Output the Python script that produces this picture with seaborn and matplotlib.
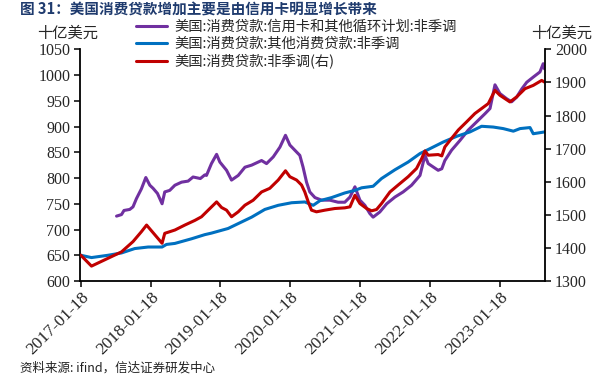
import numpy as np
import pandas as pd
import matplotlib
matplotlib.use("Agg")
import matplotlib.pyplot as plt
import matplotlib.dates as mdates
import seaborn as sns

# ---------------- data ----------------
purple_dates = ["2017-07-24", "2017-08-19", "2017-09-01", "2017-10-01", "2017-10-18", "2017-11-05",
                "2017-12-01", "2017-12-24", "2018-01-14", "2018-01-31", "2018-02-23", "2018-03-19",
                "2018-04-02", "2018-04-28", "2018-05-25", "2018-06-29", "2018-08-02", "2018-08-28",
                "2018-10-05", "2018-10-28", "2018-11-06", "2018-12-02", "2018-12-29", "2019-01-15",
                "2019-02-19", "2019-03-17", "2019-04-21", "2019-05-26", "2019-06-30", "2019-08-21",
                "2019-09-16", "2019-10-21", "2019-11-25", "2019-12-24", "2020-01-16", "2020-02-11",
                "2020-03-08", "2020-03-25", "2020-04-12", "2020-04-29", "2020-05-26", "2020-06-30",
                "2020-08-12", "2020-09-24", "2020-10-29", "2020-11-25", "2020-12-21", "2021-01-16",
                "2021-02-11", "2021-03-09", "2021-03-26", "2021-04-30", "2021-06-05", "2021-07-18",
                "2021-08-30", "2021-10-13", "2021-11-26", "2021-12-22", "2022-01-08", "2022-03-01",
                "2022-03-20", "2022-04-05", "2022-05-10", "2022-06-23", "2022-08-05", "2022-09-18",
                "2022-11-01", "2022-11-27", "2022-12-23", "2023-01-18", "2023-02-22", "2023-03-20",
                "2023-04-15", "2023-05-12", "2023-06-07", "2023-07-11", "2023-08-15", "2023-09-01",
                "2023-09-08"]
purple_vals = [726, 729, 737, 739, 744, 760,
               779, 801, 786, 780, 770, 750,
               773, 776, 786, 792, 794, 802,
               799, 806, 805, 828, 846, 831,
               815, 796, 805, 821, 825, 834,
               828, 841, 860, 883, 864, 854,
               844, 821, 792, 773, 762, 757,
               757, 753, 753, 763, 783, 757,
               747, 731, 724, 734, 750, 763,
               773, 786, 805, 844, 828, 815,
               818, 834, 854, 873, 893, 909,
               925, 935, 981, 964, 954, 948,
               957, 973, 986, 996, 1006, 1022,
               1012]

blue_dates = ["2017-01-18", "2017-03-15", "2017-06-10", "2017-08-19", "2017-10-27", "2018-01-05",
              "2018-03-19", "2018-04-11", "2018-05-25", "2018-08-20", "2018-10-28", "2018-12-02",
              "2019-02-27", "2019-04-21", "2019-06-30", "2019-09-07", "2019-11-16", "2020-01-25",
              "2020-04-03", "2020-05-17", "2020-06-21", "2020-08-21", "2020-10-29", "2020-12-21",
              "2021-01-25", "2021-03-26", "2021-05-09", "2021-07-18", "2021-09-25", "2021-11-26",
              "2022-01-17", "2022-03-28", "2022-06-06", "2022-08-14", "2022-10-14", "2022-12-14",
              "2023-02-04", "2023-03-29", "2023-05-03", "2023-06-24", "2023-07-11", "2023-09-08"]
blue_vals = [650, 645.5, 650, 654.5, 663, 666,
             666, 671, 673, 682, 690, 693,
             702, 711.5, 724, 739, 747, 752,
             753.5, 747, 756, 762, 771, 776,
             781, 784, 799, 816, 831, 847.5,
             857, 870, 881, 889.5, 900.5, 899,
             896, 891, 896, 898, 886, 889.5]

red_dates = ["2017-01-18", "2017-03-15", "2017-08-19", "2017-10-18", "2017-12-01", "2017-12-28",
             "2018-03-19", "2018-04-02", "2018-05-25", "2018-07-16", "2018-09-06", "2018-10-11",
             "2018-11-15", "2018-12-29", "2019-01-24", "2019-02-19", "2019-03-17", "2019-04-21",
             "2019-05-26", "2019-07-08", "2019-08-21", "2019-10-03", "2019-11-16", "2019-12-24",
             "2020-01-16", "2020-02-20", "2020-03-17", "2020-04-03", "2020-04-21", "2020-05-08",
             "2020-06-03", "2020-07-17", "2020-09-07", "2020-10-29", "2020-11-25", "2020-12-21",
             "2021-01-16", "2021-02-20", "2021-03-18", "2021-04-13", "2021-05-09", "2021-06-22",
             "2021-08-04", "2021-09-25", "2021-11-08", "2021-12-05", "2021-12-22", "2022-01-08",
             "2022-03-01", "2022-03-20", "2022-04-05", "2022-05-02", "2022-06-14", "2022-07-28",
             "2022-09-09", "2022-10-14", "2022-11-18", "2022-12-23", "2023-01-18", "2023-03-11",
             "2023-04-15", "2023-05-29", "2023-07-11", "2023-08-24", "2023-09-08"]
red_vals = [1378, 1345, 1388, 1419, 1449, 1469,
            1414, 1444, 1454, 1469, 1483, 1494,
            1514, 1539, 1522, 1514, 1494, 1509,
            1529, 1544, 1569, 1580, 1605, 1633,
            1615, 1605, 1590, 1569, 1539, 1514,
            1509, 1514, 1519, 1521, 1524, 1559,
            1534, 1519, 1512, 1516, 1534, 1569,
            1590, 1615, 1640, 1670, 1693, 1680,
            1682, 1678, 1705, 1725, 1756, 1781,
            1806, 1821, 1836, 1876, 1861, 1841,
            1856, 1881, 1891, 1906, 1901]

label_purple = "美国:消费贷款:信用卡和其他循环计划:非季调"
label_blue = "美国:消费贷款:其他消费贷款:非季调"
label_red = "美国:消费贷款:非季调(右)"
tick_dates = ["2017-01-18", "2018-01-18", "2019-01-18", "2020-01-18",
              "2021-01-18", "2022-01-18", "2023-01-18"]
left_ticks = [600, 650, 700, 750, 800, 850, 900, 950, 1000, 1050]
right_ticks = [1300, 1400, 1500, 1600, 1700, 1800, 1900, 2000]
title = "图 31：美国消费贷款增加主要是由信用卡明显增长带来"
unit = "十亿美元"
source = "资料来源: ifind，信达证券研发中心"

# ---------------- style ----------------
sns.set_style("white")
plt.rcParams["font.family"] = ["Liberation Serif", "Noto Sans CJK SC", "DejaVu Sans"]
plt.rcParams["axes.unicode_minus"] = False

C_PURPLE = "#7030A0"
C_BLUE = "#0070C0"
C_RED = "#C00000"
CJK = ["Noto Sans CJK SC", "DejaVu Sans"]
SERIF = ["Liberation Serif", "DejaVu Serif"]

df_p = pd.DataFrame({"date": pd.to_datetime(purple_dates), "v": purple_vals})
df_b = pd.DataFrame({"date": pd.to_datetime(blue_dates), "v": blue_vals})
df_r = pd.DataFrame({"date": pd.to_datetime(red_dates), "v": red_vals})

fig = plt.figure(figsize=(6.0, 3.79), dpi=100)
ax = fig.add_axes([80 / 600, 1 - 281 / 379, (545.3 - 80) / 600, (281 - 49.3) / 379])
ax2 = ax.twinx()

lw = 2.2
sns.lineplot(data=df_p, x="date", y="v", ax=ax, color=C_PURPLE, lw=lw, label=label_purple, legend=False)
sns.lineplot(data=df_b, x="date", y="v", ax=ax, color=C_BLUE, lw=lw, label=label_blue, legend=False)
sns.lineplot(data=df_r, x="date", y="v", ax=ax2, color=C_RED, lw=lw, label=label_red, legend=False)

ax.set_xlim(pd.Timestamp("2017-01-14"), pd.Timestamp("2023-09-12"))
ax.set_ylim(600, 1050)
ax2.set_ylim(1300, 2000)
ax.set_yticks(left_ticks)
ax2.set_yticks(right_ticks)
ax.set_xticks(pd.to_datetime(tick_dates))
ax.xaxis.set_major_formatter(mdates.DateFormatter("%Y-%m-%d"))
for a in (ax, ax2):
    a.set_xlabel("")
    a.set_ylabel("")
    a.grid(False)
    a.spines["top"].set_visible(False)
    for s in a.spines.values():
        s.set_linewidth(1.3)
        s.set_color("black")
ax.spines["right"].set_visible(False)
ax2.spines["left"].set_visible(False)
ax2.spines["bottom"].set_visible(False)

ax.tick_params(axis="y", direction="out", length=4, width=1.3, labelsize=11.5, pad=3, left=True)
ax.tick_params(axis="x", direction="out", length=4, width=1.3, labelsize=12.5, pad=2, bottom=True)
ax2.tick_params(axis="y", direction="out", length=4, width=1.3, labelsize=11.5, pad=3, right=True)
for lab in ax.get_xticklabels():
    lab.set_rotation(45)
    lab.set_ha("right")
    lab.set_rotation_mode("anchor")
    lab.set_va("top")
    lab.set_fontfamily(SERIF)
for lab in ax.get_yticklabels() + ax2.get_yticklabels():
    lab.set_fontfamily(SERIF)

# legend
handles = ax.get_lines()[:2] + ax2.get_lines()[:1]
labels = [label_purple, label_blue, label_red]
fig.legend(handles, labels, loc="upper left", bbox_to_anchor=(136 / 600, 1 - 20 / 379),
           frameon=False, prop={"family": CJK, "size": 10.3}, handlelength=2.2,
           handletextpad=0.45, labelspacing=0.2, borderaxespad=0, borderpad=0)

# texts
fig.text(20 / 600, 1 - 10 / 379, title, ha="left", va="center", fontsize=10.5,
         fontweight="bold", color="#1F3B6E", family=CJK)
fig.text(68 / 600, 1 - 33 / 379, unit, ha="center", va="center", fontsize=11, family=CJK)
fig.text(562 / 600, 1 - 33 / 379, unit, ha="center", va="center", fontsize=11, family=CJK)
fig.text(20 / 600, 1 - 368 / 379, source, ha="left", va="center", fontsize=9,
         style="italic", family=CJK, color="#222222")

fig.savefig("out.png", dpi=100)
